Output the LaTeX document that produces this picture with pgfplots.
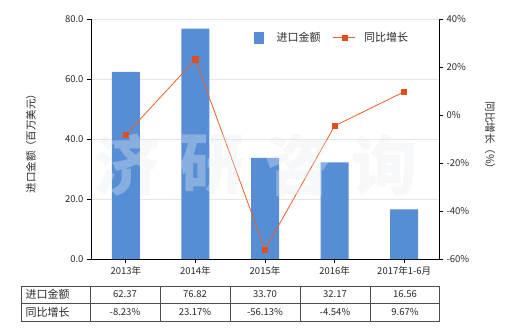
\documentclass[border=0pt]{standalone}
\usepackage{pgfplots}
\pgfplotsset{compat=1.18}
\usepackage{fontspec}
\setmainfont{Noto Sans CJK SC}
\definecolor{barblue}{RGB}{85,142,213}
\definecolor{lineor}{RGB}{232,96,40}
\definecolor{markor}{RGB}{224,78,27}
\definecolor{txt}{RGB}{40,40,40}
\definecolor{wm}{RGB}{230,234,240}
\begin{document}
\begin{tikzpicture}[x=1pt,y=1pt,font=\fontsize{9.5}{10}\selectfont]
\useasboundingbox (0,0) rectangle (520,330);
\begin{axis}[
  at={(91pt,71pt)}, anchor=south west, scale only axis,
  width=348pt, height=240pt,
  xmin=-0.5, xmax=4.5, ymin=0, ymax=80,
  ytick={0,20,40,60,80},
  xtick={0,1,2,3,4},
  xticklabels={2013年,2014年,2015年,2016年,2017年1-6月},
  /pgf/number format/assume math mode=true,
  yticklabel style={/pgf/number format/.cd,fixed,fixed zerofill,precision=1},
  ymajorgrids, grid style={gray!20, line width=0.8pt},
  axis x line*=bottom, axis y line*=left,
  axis line style={black, line width=0.8pt},
  tick align=outside, major tick length=4pt,
  tick style={black, line width=0.8pt},
  tick label style={txt, font=\fontsize{9.5}{10}\selectfont},
  clip=false,
]
\addplot[ybar, bar width=28pt, fill=barblue, draw=none] coordinates {(0,62.37) (1,76.82) (2,33.70) (3,32.17) (4,16.56)};
\end{axis}
\begin{axis}[
  at={(91pt,71pt)}, anchor=south west, scale only axis,
  width=348pt, height=240pt,
  xmin=-0.5, xmax=4.5, ymin=-60, ymax=40,
  ytick={-60,-40,-20,0,20,40},
  yticklabel={\pgfmathprintnumber{\tick}\%},
  /pgf/number format/assume math mode=true,
  axis x line=none, axis y line*=right,
  axis line style={black, line width=0.8pt},
  tick align=outside, major tick length=4pt,
  tick style={black, line width=0.8pt},
  tick label style={txt, font=\fontsize{9.5}{10}\selectfont},
  legend style={draw=none, fill=none, at={(0.46,0.923)}, anchor=west, legend columns=2,
     font=\fontsize{11}{12}\selectfont, text=txt, /tikz/every even column/.append style={column sep=10pt},
     legend cell align=left},
  clip=false,
]
\addlegendimage{legend image code/.code={\fill[barblue] (0pt,-5.5pt) rectangle (9pt,5.5pt);}}
\addlegendentry{\hspace*{11pt}进口金额}
\addlegendimage{legend image code/.code={\draw[lineor, line width=1.4pt] (0pt,0pt) -- (22pt,0pt); \fill[markor] (8.5pt,-2.5pt) rectangle (13.5pt,2.5pt);}}
\addlegendentry{\hspace*{6pt}同比增长}
\addplot[lineor, line width=0.8pt, mark=square*, mark size=2.6pt, mark options={fill=markor, draw=markor}, forget plot]
  coordinates {(0,-8.23) (1,23.17) (2,-56.13) (3,-4.54) (4,9.67)};
\end{axis}
% axis titles
\node[rotate=90, txt, font=\fontsize{10.5}{11}\selectfont] at (31,189) {进口金额（百万美元）};
\node[rotate=-90, txt, font=\fontsize{10.5}{11}\selectfont] at (490,192) {同比增长（\%）};
% watermark
\foreach \c/\xx in {济/127,研/212,咨/298,询/384}{
  \node[wm, opacity=0.35, font=\fontsize{66}{66}\selectfont\bfseries] at (\xx,165) {\c};
}
% table
\begin{scope}[line width=0.8pt, draw=black!70]
\draw (21,44) rectangle (439,9);
\draw (21,27) -- (439,27);
\foreach \xx in {90,160,230,300,370}{\draw (\xx,44) -- (\xx,9);}
\end{scope}
\node[anchor=west, txt, font=\fontsize{11}{12}\selectfont] at (22,36) {进口金额};
\node[anchor=west, txt, font=\fontsize{11}{12}\selectfont] at (22,18) {同比增长};
\foreach \v [count=\i from 0] in {62.37,76.82,33.70,32.17,16.56}{
  \node[txt] at (125+70*\i,35.5) {\v};
}
\foreach \v [count=\i from 0] in {-8.23\%,23.17\%,-56.13\%,-4.54\%,9.67\%}{
  \node[txt] at (125+70*\i,17.5) {\v};
}
\end{tikzpicture}
\end{document}
